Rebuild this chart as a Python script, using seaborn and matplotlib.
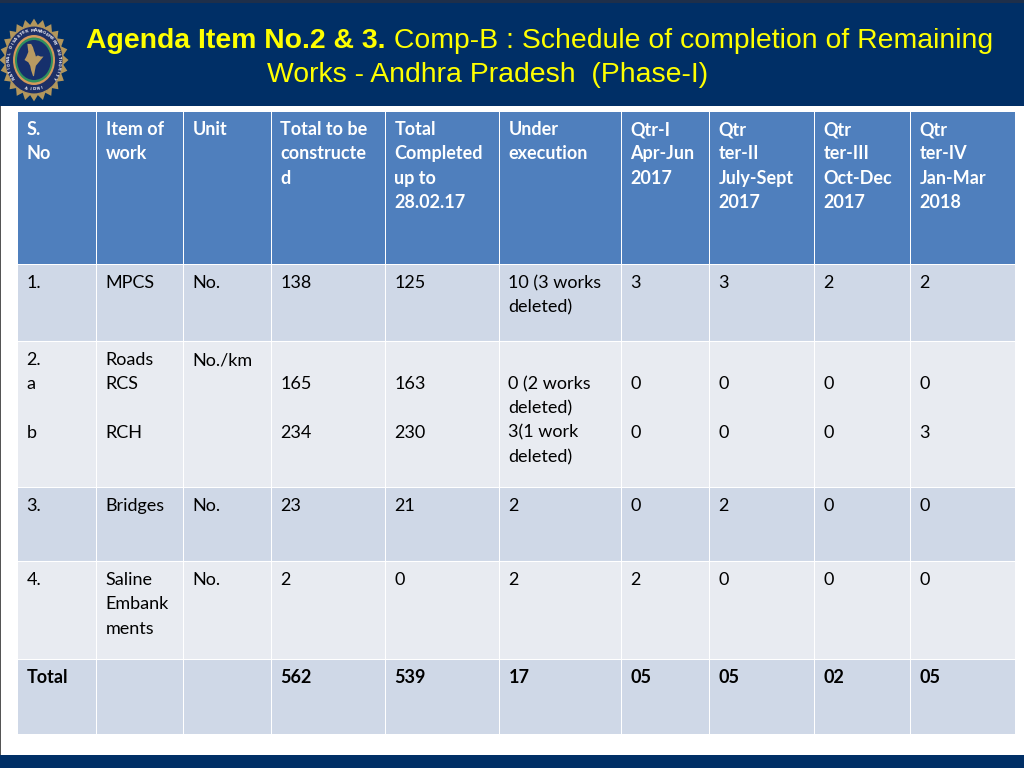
import matplotlib
matplotlib.use("Agg")
import matplotlib.pyplot as plt
import numpy as np
import seaborn as sns
from matplotlib.patches import Rectangle, Ellipse, Polygon

sns.set_theme(style="white")

title_bold = "Agenda Item No.2 & 3."
title_rest = " Comp-B : Schedule of completion of Remaining"
title_line2 = "Works - Andhra Pradesh  (Phase-I)"
emblem_text = "NATIONAL DISASTER MANAGEMENT AUTHORITY"
emblem_foot = "INDIA"

header = ["S.\nNo", "Item of\nwork", "Unit", "Total to be\nconstructe\nd",
          "Total\nCompleted\nup to\n28.02.17", "Under\nexecution",
          "Qtr-I\nApr-Jun\n2017", "Qtr\nter-II\nJuly-Sept\n2017",
          "Qtr\nter-III\nOct-Dec\n2017", "Qtr\nter-IV\nJan-Mar\n2018"]
row_mpcs = ["1.", "MPCS", "No.", "138", "125", "10 (3 works\ndeleted)", "3", "3", "2", "2"]
row_roads = ["2.\na\n\nb", "Roads\nRCS\n\nRCH", "No./km", "\n165\n\n234", "\n163\n\n230",
             "\n0 (2 works\ndeleted)\n3(1 work\ndeleted)", "\n0\n\n0", "\n0\n\n0", "\n0\n\n0", "\n0\n\n3"]
row_bridges = ["3.", "Bridges", "No.", "23", "21", "2", "0", "2", "0", "0"]
row_saline = ["4.", "Saline\nEmbank\nments", "No.", "2", "0", "2", "2", "0", "0", "0"]
row_total = ["Total", "", "", "562", "539", "17", "05", "05", "02", "05"]
rows = [header, row_mpcs, row_roads, row_bridges, row_saline, row_total]
bold_rows = {0, 5}

col_edges = [17, 96, 183, 271, 385, 499, 621, 709, 814, 910, 1015]
row_edges = [111, 264, 341, 487, 561, 659, 734]
row_colors = ["#4F7FBD", "#CFD8E7", "#E8EBF1", "#CFD8E7", "#E8EBF1", "#CFD8E7"]

NAVY = "#002F66"
GOLD = "#B2965C"
fig = plt.figure(figsize=(10.24, 7.68), dpi=100, facecolor="white")
ax = fig.add_axes([0, 0, 1, 1])
ax.set_xlim(0, 1024)
ax.set_ylim(768, 0)
ax.axis("off")

# slide frame
ax.add_patch(Rectangle((0, 0), 1024, 106, fc=NAVY, ec="none"))
ax.add_patch(Rectangle((0, 0), 1024, 3, fc="#1E2F4A", ec="none"))
ax.add_patch(Rectangle((0, 755), 1024, 13, fc=NAVY, ec="none"))
ax.add_patch(Rectangle((0, 106), 1, 649, fc="#555555", ec="none"))

# emblem (slightly taller than wide, as in the slide)
cx, cy = 34, 60
sx, sy = 1.0, 1.2
ang = np.linspace(0, 2 * np.pi, 48, endpoint=False) + np.pi / 2
rad = np.where(np.arange(48) % 2 == 0, 34.5, 29.5)
ax.add_patch(Polygon(np.c_[cx + sx * rad * np.cos(ang), cy - sy * rad * np.sin(ang)], fc=GOLD, ec="none"))
ax.add_patch(Ellipse((cx, cy), 58, 68, fc="#1D2F66", ec=GOLD, lw=0.8))
ax.add_patch(Ellipse((cx, cy), 42, 50, fc="#D4995A", ec="none"))
ax.add_patch(Ellipse((cx, cy), 38, 45, fc="#2F8F5E", ec="none"))
ax.add_patch(Ellipse((cx, cy), 34, 40, fc="#16306C", ec="none"))
india_x = [-7, -3, -1, 0, 1, 2, 4, 7, 10, 6, 4, 2, 1, 0, -1, -3, -4, -6, -10, -8, -6, -7]
india_y = [-14, -14, -11, -8, -6, -3, -4, -3, -3, 1, 3, 5, 9, 14, 14, 9, 5, 2, 0, -3, -7, -14]
ax.add_patch(Polygon(np.c_[cx + 0.95 * np.array(india_x), cy + 1.15 * np.array(india_y)], fc="#B99A62", ec="none"))
n = len(emblem_text)
for i, ch in enumerate(emblem_text):
    a = np.deg2rad(215 - i * 250 / (n - 1))
    ax.text(cx + 25 * np.cos(a), cy - 29.5 * np.sin(a), ch, color="#E4E4EE", fontsize=3,
            rotation=np.rad2deg(a) - 90, ha="center", va="center", family="DejaVu Sans", fontweight="bold")
for i, ch in enumerate(emblem_foot):
    a = np.deg2rad(-90 + (2 - i) * 9)
    ax.text(cx + 25 * np.cos(a), cy - 29.5 * np.sin(a), ch, color="#E4E4EE", fontsize=3,
            rotation=np.rad2deg(a) + 90, ha="center", va="center", family="DejaVu Sans", fontweight="bold")

# title
YEL = "#FFFF00"
TS = 20.45
t1 = ax.text(86, 40.5, title_bold, color=YEL, fontsize=TS, fontweight="bold",
             family="Liberation Sans", va="center", ha="left")
fig.canvas.draw()
bb = t1.get_window_extent()
ax.text(bb.x1, 40.5, title_rest, color=YEL, fontsize=TS, family="Liberation Sans", va="center", ha="left")
ax.text(267, 75.5, title_line2, color=YEL, fontsize=TS, family="Liberation Sans", va="center", ha="left")

# table cells
band = np.arange(len(rows))[:, None] * np.ones((1, len(col_edges) - 1))
cmap = matplotlib.colors.ListedColormap(row_colors)
ax.pcolormesh(col_edges, row_edges, band, cmap=cmap, vmin=-0.5, vmax=5.5,
              edgecolors="white", linewidth=0.7)

LINE = 24.3
for r, row in enumerate(rows):
    for c, cell in enumerate(row):
        colr = "white" if r == 0 else "black"
        for i, line in enumerate(cell.split("\n")):
            if line:
                ax.text(col_edges[c] + 9.5, row_edges[r] + 24 + i * LINE, line, color=colr,
                        fontsize=13.0, family="Lato", va="baseline", ha="left",
                        fontweight="bold" if r in bold_rows else "normal")

fig.savefig("out.png", dpi=100, facecolor="white")
